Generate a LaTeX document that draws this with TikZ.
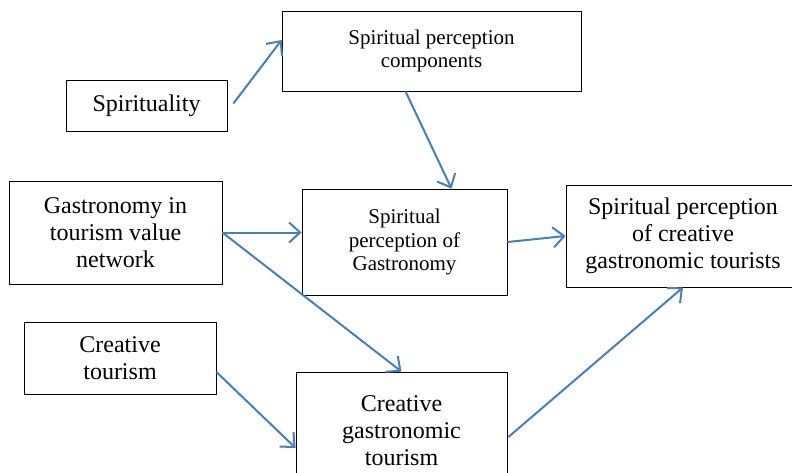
\documentclass[tikz,border=0pt]{standalone}
\usepackage{fontspec}
\setmainfont{Liberation Serif}
\usetikzlibrary{arrows.meta,calc}
\definecolor{arrowblue}{RGB}{74,126,187}

\begin{document}
\begin{tikzpicture}[
    x=1pt, y=1pt,
    box/.style={rectangle, draw=black, line width=0.8pt, align=center, inner sep=0pt},
    big/.style={font=\fontsize{24}{27}\selectfont},
    small/.style={font=\fontsize{21}{23.5}\selectfont},
    arrow/.style={-{Straight Barb[length=11pt,width=20pt]}, line width=2pt, draw=arrowblue}
]
    \clip (0,0) rectangle (792,472);

    % Nodes
    \node[box, small, minimum width=299pt, minimum height=80pt] (comp) at (431.5,421) {Spiritual perception\\components};
    \node[box, big, minimum width=161pt, minimum height=51pt] (spir) at (146.5,366.5) {Spirituality};
    \node[box, big, minimum width=213pt, minimum height=103pt] (gvn) at (115.5,239.5) {Gastronomy in\\tourism value\\network};
    \node[box, small, minimum width=205pt, minimum height=106pt] (spg) at (404.5,230) {Spiritual\\perception of\\Gastronomy};
    \node[box, big, minimum width=234pt, minimum height=102pt] (tour) at (683,236) {Spiritual perception\\of creative\\gastronomic tourists};
    \node[box, big, minimum width=192pt, minimum height=72pt] (ct) at (120,114) {Creative\\tourism};
    \node[box, big, minimum width=211pt, minimum height=118pt] (cgt) at (401.5,41) {Creative\\gastronomic\\tourism};

    % Arrows
    \draw[arrow] ($(spir.east)+(6,2)$) -- ($(comp.west)+(0,11)$);
    \draw[arrow] ($(comp.south)+(-26,0)$) -- ($(spg.north)+(47,0)$);
    \draw[arrow] (gvn.east) -- (gvn.east -| spg.west);
    \draw[arrow] (gvn.east) -- (cgt.north);
    \draw[arrow] (spg.east) -- (tour.west);
    \draw[arrow] ($(ct.east)+(0,-14)$) -- ($(cgt.west)+(0,-17)$);
    \draw[arrow] ($(cgt.east)+(1,-6)$) -- (tour.south);
\end{tikzpicture}
\end{document}
